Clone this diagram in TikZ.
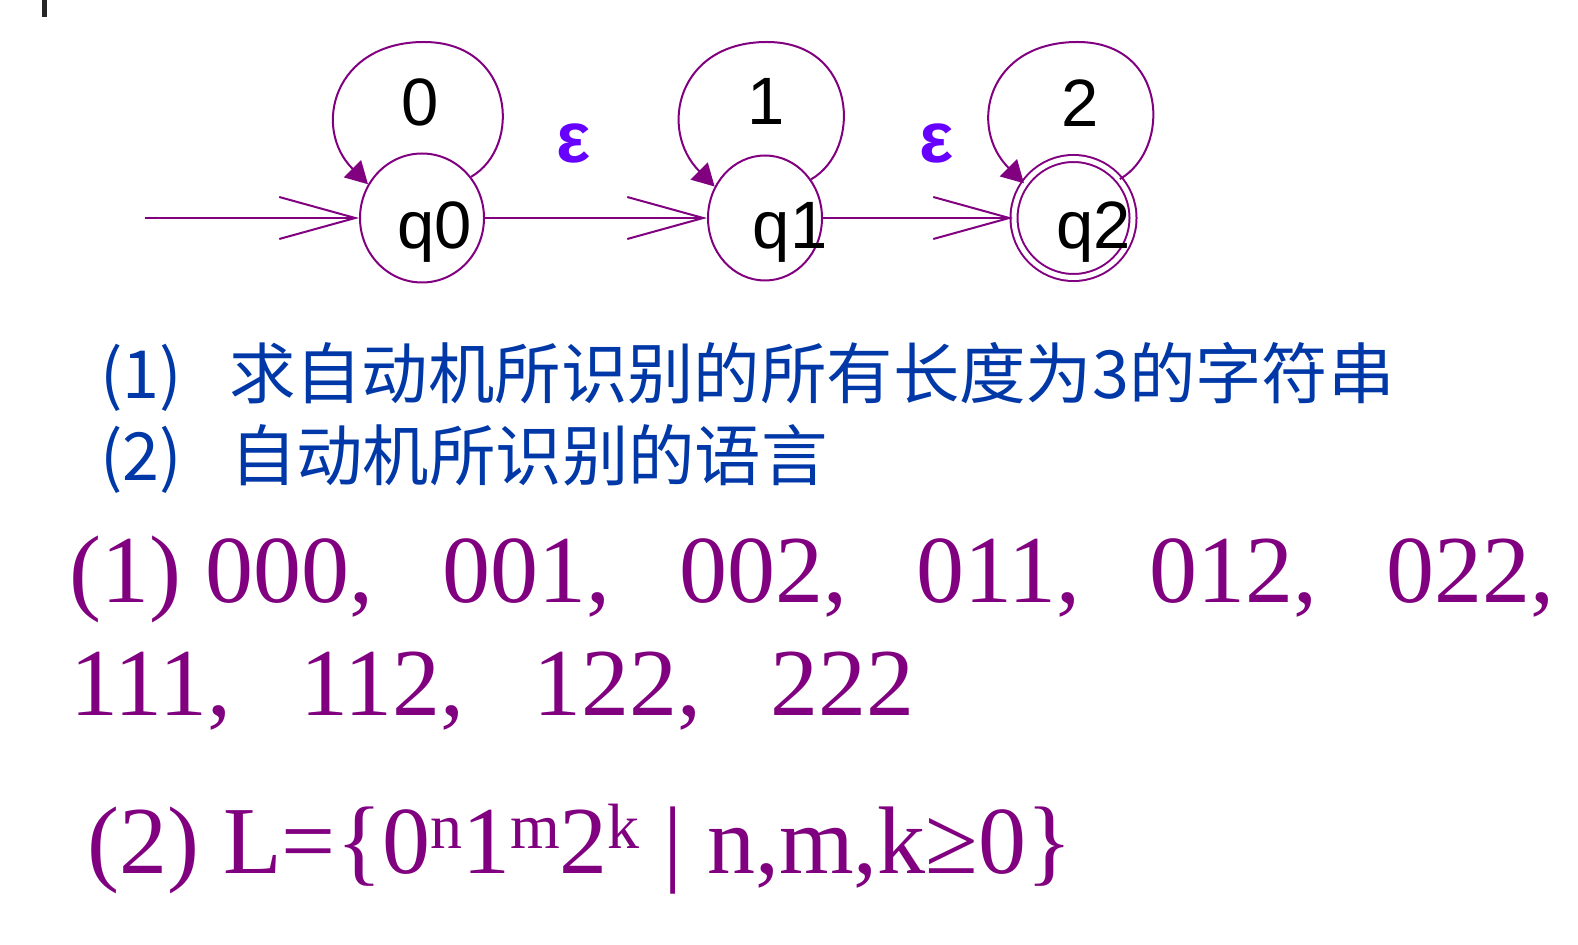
\documentclass[tikz,border=0pt]{standalone}
\usepackage{fontspec}
\setmainfont{Liberation Serif}
\setsansfont{Liberation Sans}
\newfontfamily\cjk{Noto Sans CJK SC}
\usepackage{tikz}
\usetikzlibrary{ arrows.meta, automata, positioning, shapes.geometric }
\definecolor{fsmpurple}{RGB}{128,0,128}
\definecolor{epsviolet}{RGB}{102,0,255}
\definecolor{askblue}{RGB}{0,56,168}
\newcommand{\sepgap}{,\hspace{34.5pt}}
\newcommand{\upidx}[1]{\raisebox{12.5pt}{\fontsize{32pt}{32pt}\selectfont #1}}
\tikzset{
>={Straight Barb[length=38pt,width=21pt]}, % long open heads on the edges
node distance=1cm,
every state/.style={ellipse, draw=fsmpurple, line width=1pt, inner sep=0pt},
every node/.style={inner sep=1pt},
accepting/.style={double, double distance=2.5pt}, % q2 is drawn as a double ring
statetext/.style={font=\sffamily\fontsize{33.5pt}{33.5pt}\selectfont},
looptext/.style={font=\sffamily\fontsize{33.5pt}{33.5pt}\selectfont},
eps/.style={inner sep=0pt, text=epsviolet, font=\sffamily\bfseries\fontsize{36pt}{36pt}\selectfont},
loopline/.style={draw=fsmpurple, line width=1pt, -{Triangle[length=11pt,width=12pt]}},
asktext/.style={anchor=base west, inner sep=0pt, text=askblue, font=\cjk\fontsize{33.2pt}{33.2pt}\selectfont},
answertext/.style={anchor=base west, inner sep=0pt, text=fsmpurple, font=\fontsize{48pt}{48pt}\selectfont},
}

\begin{document}
\begin{tikzpicture}[x=0.5pt, y=0.5pt]%one unit is one pixel of the page
  \useasboundingbox (0,0) rectangle (1578,944);
  \draw[line width=2.5pt, black!85] (44,944) -- (44,927);

  \node[state, minimum width=62pt, minimum height=64.5pt, label={[statetext, xshift=6.5pt, yshift=-7pt]center:q0}] (q0) at (422,726) {};
  \node[state, minimum width=57pt, minimum height=62.5pt, right=111pt of q0, label={[statetext, xshift=12.5pt, yshift=-7pt]center:q1}] (q1) {};
  \node[state, accepting, minimum size=59.5pt, right=95pt of q1, label={[statetext, xshift=10pt, yshift=-7pt]center:q2}] (q2) {};
  \coordinate[left=107pt of q0] (init);

  % self loops
  \draw[loopline] (q0.40) to[out=30, in=0, out distance=30pt, in distance=45pt] ([xshift=1pt, yshift=88pt]q0.center)
    to[out=180, in=135, out distance=45pt, in distance=40pt] (q0.148);
  \draw[loopline] (q1.40) to[out=30, in=0, out distance=30pt, in distance=45pt] ([xshift=1pt, yshift=88pt]q1.center)
    to[out=180, in=135, out distance=45pt, in distance=40pt] (q1.148);
  \draw[loopline] (q2.40) to[out=30, in=0, out distance=30pt, in distance=45pt] ([xshift=2pt, yshift=88pt]q2.center)
    to[out=180, in=135, out distance=45pt, in distance=40pt] (q2.145);
  \node[looptext] (sym0) at ([xshift=-1pt, yshift=58pt]q0.center) {0};
  \node[looptext] (sym1) at ([xshift=0.5pt, yshift=58.5pt]q1.center) {1};
  \node[looptext] (sym2) at ([xshift=3.5pt, yshift=57.5pt]q2.center) {2};

  \draw[fsmpurple, line width=1pt, ->] (init) -- (q0);
  \path[fsmpurple, line width=1pt, ->]
  (q0) edge node[eps, pos=0.4, above=27pt]{ε}(q1)
  (q1) edge node[eps, pos=0.6, above=27pt]{ε}(q2);

  \node[asktext] (ask1) at (100,546) {(1)\hspace{23.5pt}求自动机所识别的所有长度为3的字符串};
  \node[asktext] (ask2) at (100,464) {(2)\hspace{24pt}自动机所识别的语言};
  \node[answertext] (ans1) at (69,342) {(1) 000\sepgap 001\sepgap 002\sepgap 011\sepgap 012\sepgap 022,};
  \node[answertext] (ans2) at (70,229) {111\sepgap 112\sepgap 122\sepgap 222};
  \node[answertext] (ans3) at (87,71) {(2) L=\{0\upidx{n}1\upidx{m}2\upidx{k} | n,m,k≥0\}};
\end{tikzpicture}
\end{document}
